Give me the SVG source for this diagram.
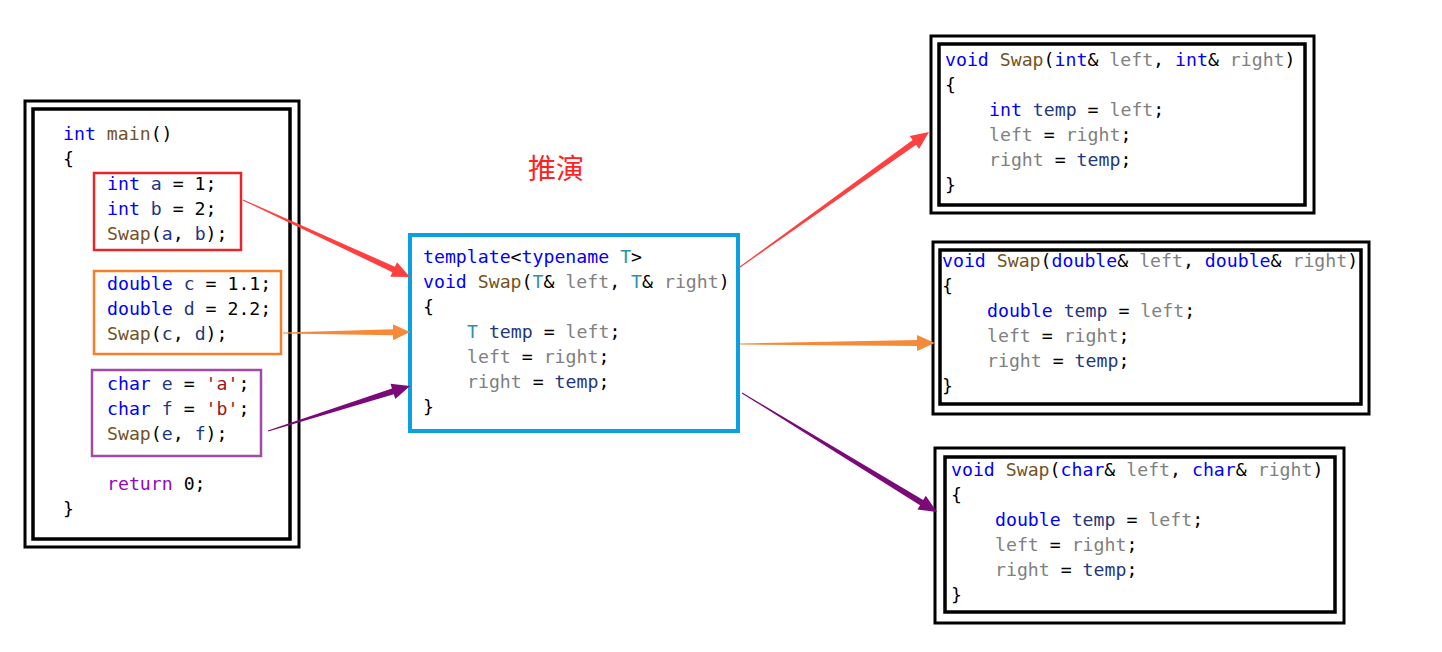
<svg xmlns="http://www.w3.org/2000/svg" width="1442" height="652" viewBox="0 0 1442 652">
<style>
.code{font-family:"DejaVu Sans Mono","Liberation Mono",monospace;font-size:18.2px;fill:#000;white-space:pre}
.kw{fill:#0000FF}.fn{fill:#74531F}.pa{fill:#808080}.lv{fill:#1F377F}.ty{fill:#2B91AF}.st{fill:#A31515}.rt{fill:#8F08C4}
.outer{fill:#fff;stroke:#000;stroke-width:3}
.inner{fill:#fff;stroke:#000;stroke-width:3.5}
</style>
<rect width="1442" height="652" fill="#fff"/>
<g id="main">
<rect class="outer" x="25" y="101" width="274" height="446"/>
<rect class="inner" x="33" y="109" width="257" height="430"/>
<text class="code" xml:space="preserve"><tspan x="63" y="140"><tspan class="kw">int</tspan> <tspan class="fn">main</tspan>()</tspan><tspan x="63" y="165">{</tspan><tspan x="107" y="490"><tspan class="rt">return</tspan> 0;</tspan><tspan x="63" y="515">}</tspan></text>
</g>
<g id="block-int">
<rect x="94" y="173" width="147" height="77" fill="none" stroke="#E8252A" stroke-width="2.5"/>
<text class="code" xml:space="preserve"><tspan x="107" y="190"><tspan class="kw">int</tspan> <tspan class="lv">a</tspan> = 1;</tspan><tspan x="107" y="215"><tspan class="kw">int</tspan> <tspan class="lv">b</tspan> = 2;</tspan><tspan x="107" y="240"><tspan class="fn">Swap</tspan>(<tspan class="lv">a</tspan>, <tspan class="lv">b</tspan>);</tspan></text>
</g>
<g id="block-double">
<rect x="94" y="271" width="187" height="83" fill="none" stroke="#F47F2A" stroke-width="2.5"/>
<text class="code" xml:space="preserve"><tspan x="107" y="290"><tspan class="kw">double</tspan> <tspan class="lv">c</tspan> = 1.1;</tspan><tspan x="107" y="315"><tspan class="kw">double</tspan> <tspan class="lv">d</tspan> = 2.2;</tspan><tspan x="107" y="340"><tspan class="fn">Swap</tspan>(<tspan class="lv">c</tspan>, <tspan class="lv">d</tspan>);</tspan></text>
</g>
<g id="block-char">
<rect x="92" y="370" width="169" height="86" fill="none" stroke="#A04BA8" stroke-width="2.5"/>
<text class="code" xml:space="preserve"><tspan x="107" y="390"><tspan class="kw">char</tspan> <tspan class="lv">e</tspan> = <tspan class="st">'a'</tspan>;</tspan><tspan x="107" y="415"><tspan class="kw">char</tspan> <tspan class="lv">f</tspan> = <tspan class="st">'b'</tspan>;</tspan><tspan x="107" y="440"><tspan class="fn">Swap</tspan>(<tspan class="lv">e</tspan>, <tspan class="lv">f</tspan>);</tspan></text>
</g>
<g id="label">
<text x="556" y="179" text-anchor="middle" font-family="'Noto Sans CJK SC',sans-serif" font-size="28" fill="#FF2020">推演</text>
</g>
<g id="template">
<rect x="410" y="235" width="328" height="196" fill="#fff" stroke="#0BA0E0" stroke-width="4"/>
<text class="code" xml:space="preserve"><tspan x="423" y="263"><tspan class="kw">template</tspan>&lt;<tspan class="kw">typename</tspan> <tspan class="ty">T</tspan>&gt;</tspan><tspan x="423" y="288"><tspan class="kw">void</tspan> <tspan class="fn">Swap</tspan>(<tspan class="ty">T</tspan>&amp; <tspan class="pa">left</tspan>, <tspan class="ty">T</tspan>&amp; <tspan class="pa">right</tspan>)</tspan><tspan x="423" y="313">{</tspan><tspan x="467" y="338"><tspan class="ty">T</tspan> <tspan class="lv">temp</tspan> = <tspan class="pa">left</tspan>;</tspan><tspan x="467" y="363"><tspan class="pa">left</tspan> = <tspan class="pa">right</tspan>;</tspan><tspan x="467" y="388"><tspan class="pa">right</tspan> = <tspan class="lv">temp</tspan>;</tspan><tspan x="423" y="413">}</tspan></text>
</g>
<g id="swap-int">
<rect class="outer" x="931" y="36" width="383" height="177"/>
<rect class="inner" x="939" y="44" width="366" height="161"/>
<text class="code" xml:space="preserve"><tspan x="945" y="66"><tspan class="kw">void</tspan> <tspan class="fn">Swap</tspan>(<tspan class="kw">int</tspan>&amp; <tspan class="pa">left</tspan>, <tspan class="kw">int</tspan>&amp; <tspan class="pa">right</tspan>)</tspan><tspan x="945" y="91">{</tspan><tspan x="989" y="116"><tspan class="kw">int</tspan> <tspan class="lv">temp</tspan> = <tspan class="pa">left</tspan>;</tspan><tspan x="989" y="141"><tspan class="pa">left</tspan> = <tspan class="pa">right</tspan>;</tspan><tspan x="989" y="166"><tspan class="pa">right</tspan> = <tspan class="lv">temp</tspan>;</tspan><tspan x="945" y="191">}</tspan></text>
</g>
<g id="swap-double">
<rect class="outer" x="933" y="242" width="436" height="172"/>
<rect class="inner" x="940" y="250" width="421" height="154"/>
<text class="code" xml:space="preserve"><tspan x="942" y="267"><tspan class="kw">void</tspan> <tspan class="fn">Swap</tspan>(<tspan class="kw">double</tspan>&amp; <tspan class="pa">left</tspan>, <tspan class="kw">double</tspan>&amp; <tspan class="pa">right</tspan>)</tspan><tspan x="942" y="292">{</tspan><tspan x="987" y="317"><tspan class="kw">double</tspan> <tspan class="lv">temp</tspan> = <tspan class="pa">left</tspan>;</tspan><tspan x="987" y="342"><tspan class="pa">left</tspan> = <tspan class="pa">right</tspan>;</tspan><tspan x="987" y="367"><tspan class="pa">right</tspan> = <tspan class="lv">temp</tspan>;</tspan><tspan x="942" y="392">}</tspan></text>
</g>
<g id="swap-char">
<rect class="outer" x="935" y="448" width="409" height="175"/>
<rect class="inner" x="945" y="457" width="390" height="155"/>
<text class="code" xml:space="preserve"><tspan x="951" y="476"><tspan class="kw">void</tspan> <tspan class="fn">Swap</tspan>(<tspan class="kw">char</tspan>&amp; <tspan class="pa">left</tspan>, <tspan class="kw">char</tspan>&amp; <tspan class="pa">right</tspan>)</tspan><tspan x="951" y="501">{</tspan><tspan x="995" y="526"><tspan class="kw">double</tspan> <tspan class="lv">temp</tspan> = <tspan class="pa">left</tspan>;</tspan><tspan x="995" y="551"><tspan class="pa">left</tspan> = <tspan class="pa">right</tspan>;</tspan><tspan x="995" y="576"><tspan class="pa">right</tspan> = <tspan class="lv">temp</tspan>;</tspan><tspan x="951" y="601">}</tspan></text>
</g>
<g id="connectors">
<g transform="translate(243,200) rotate(24.75)"><path fill="#FF4040" d="M0,-0.5 L165.9,-3 L165.9,-8 L183.9,0 L165.9,8 L165.9,3 L0,0.5 Z"/></g>
<g transform="translate(283,333) rotate(-0.45)"><path fill="#F58B3A" d="M0,-0.5 L110,-3 L110,-8 L127,0 L110,8 L110,3 L0,0.5 Z"/></g>
<g transform="translate(268,431) rotate(-17.58)"><path fill="#7B0A78" d="M0,-0.5 L131,-3 L131,-8 L149,0 L131,8 L131,3 L0,0.5 Z"/></g>
<g transform="translate(740,267) rotate(-35.54)"><path fill="#FF4040" d="M0,-0.5 L214.3,-3 L214.3,-8 L232.3,0 L214.3,8 L214.3,3 L0,0.5 Z"/></g>
<g transform="translate(740,344) rotate(-0.3)"><path fill="#F58B3A" d="M0,-0.5 L177,-3 L177,-8 L195,0 L177,8 L177,3 L0,0.5 Z"/></g>
<g transform="translate(742,393) rotate(31.39)"><path fill="#7B0A78" d="M0,-0.5 L210.4,-3 L210.4,-8 L228.4,0 L210.4,8 L210.4,3 L0,0.5 Z"/></g>
</g>
</svg>
